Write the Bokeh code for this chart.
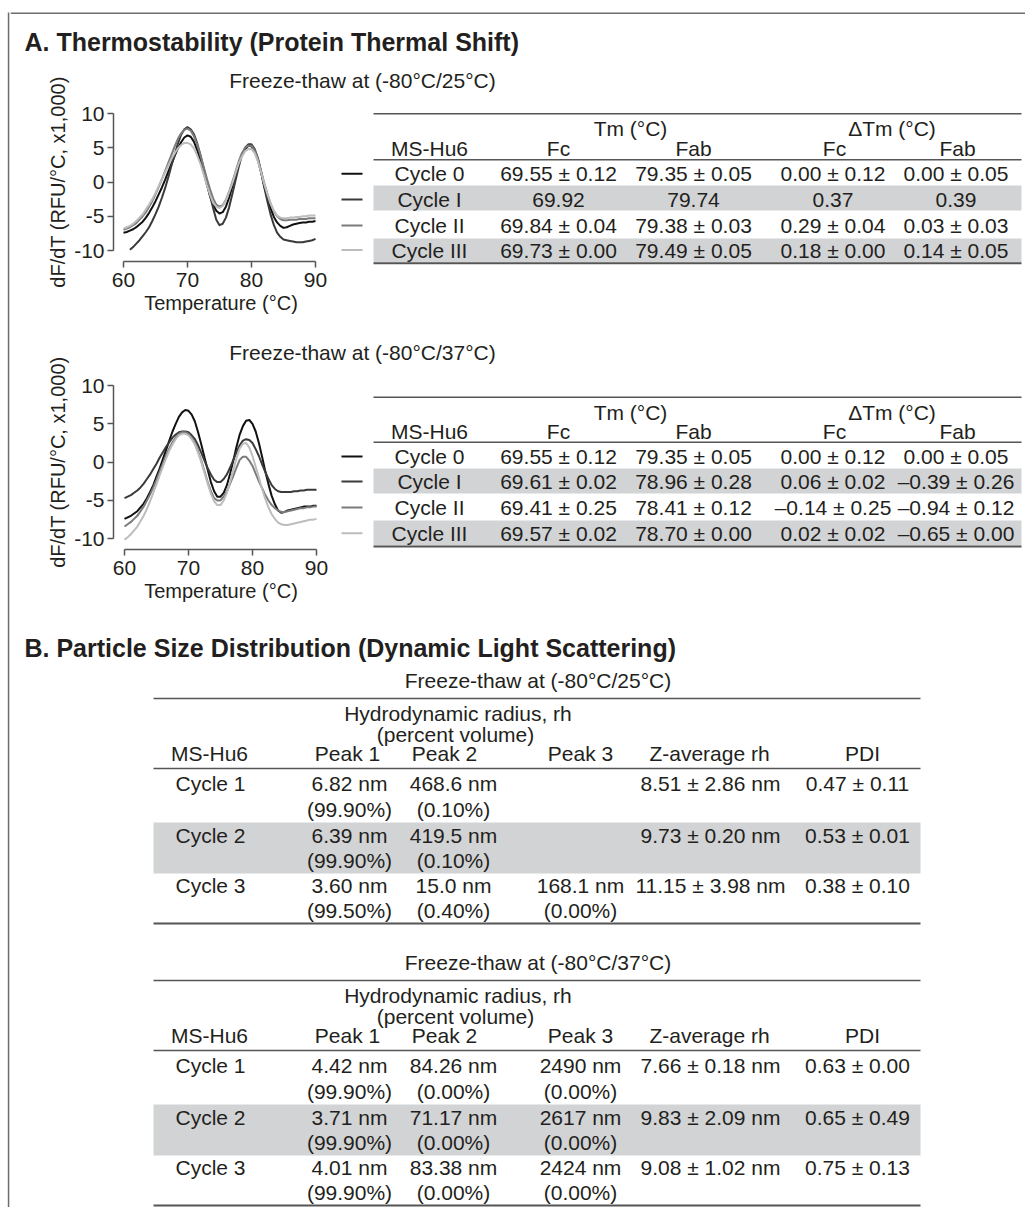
import math
from bokeh.plotting import figure
from bokeh.models import Range1d, FixedTicker
from bokeh.layouts import row, column
from bokeh.core.properties import value
from bokeh.embed import file_html
from bokeh.resources import INLINE

# ---------------- data ----------------
nan = float("nan")
temperature = [60.0, 60.5, 61.0, 61.5, 62.0, 62.5, 63.0, 63.5, 64.0, 64.5,
               65.0, 65.5, 66.0, 66.5, 67.0, 67.5, 68.0, 68.5, 69.0, 69.5,
               70.0, 70.5, 71.0, 71.5, 72.0, 72.5, 73.0, 73.5, 74.0, 74.5,
               75.0, 75.5, 76.0, 76.5, 77.0, 77.5, 78.0, 78.5, 79.0, 79.5,
               80.0, 80.5, 81.0, 81.5, 82.0, 82.5, 83.0, 83.5, 84.0, 84.5,
               85.0, 85.5, 86.0, 86.5, 87.0, 87.5, 88.0, 88.5, 89.0, 89.5,
               90.0]

# Freeze-thaw at (-80°C/25°C): dF/dT (RFU/°C, x1,000)
ft25_cycle0 = [-7.4, -7.3, -7.1, -6.9, -6.6, -6.2, -5.8, -5.2, -4.5, -3.7,
               -2.8, -1.8, -0.8, 0.3, 1.5, 2.7, 3.8, 4.9, 5.8, 6.5,
               6.8, 6.6, 5.9, 4.7, 3.2, 1.5, -0.3, -2.0, -3.3, -4.2,
               -4.6, -4.4, -3.6, -2.3, -0.7, 1.0, 2.6, 3.9, 4.8, 5.3,
               5.2, 4.5, 3.2, 1.4, -0.6, -2.4, -3.9, -5.1, -5.9, -6.4,
               -6.7, -6.6, -6.4, -6.2, -6.1, -6.0, -5.9, -5.9, -5.8, -5.8,
               -5.7]
ft25_cycle1 = [nan, nan, -9.9, -9.5, -9.0, -8.5, -7.9, -7.3, -6.6, -5.7,
               -4.7, -3.6, -2.3, -0.9, 0.7, 2.4, 4.0, 5.6, 6.9, 7.7,
               8.0, 7.7, 7.0, 5.7, 4.0, 2.1, 0.2, -1.9, -3.8, -5.5,
               -6.3, -6.1, -5.2, -3.7, -1.8, 0.2, 2.2, 3.9, 5.0, 5.5,
               5.5, 4.8, 3.5, 1.5, -0.8, -2.9, -4.8, -6.3, -7.4, -8.0,
               -8.4, -8.5, -8.6, -8.7, -8.8, -8.8, -8.8, -8.7, -8.6, -8.5,
               -8.3]
ft25_cycle2 = [-7.0, -6.8, -6.6, -6.3, -6.0, -5.5, -5.0, -4.4, -3.6, -2.8,
               -1.8, -0.7, 0.4, 1.6, 2.8, 4.0, 5.2, 6.3, 7.1, 7.6,
               7.8, 7.5, 6.7, 5.5, 4.0, 2.3, 0.6, -1.0, -2.4, -3.3,
               -3.6, -3.4, -2.6, -1.4, 0.0, 1.5, 3.0, 4.2, 5.0, 5.3,
               5.3, 4.6, 3.4, 1.6, -0.2, -1.8, -3.2, -4.3, -5.0, -5.4,
               -5.6, -5.6, -5.5, -5.5, -5.5, -5.4, -5.4, -5.4, -5.3, -5.3,
               -5.3]
ft25_cycle3 = [-6.8, -6.6, -6.4, -6.1, -5.7, -5.2, -4.7, -4.0, -3.3, -2.5,
               -1.6, -0.6, 0.4, 1.4, 2.4, 3.4, 4.2, 4.9, 5.4, 5.7,
               5.7, 5.5, 4.9, 3.9, 2.7, 1.2, -0.4, -1.8, -3.0, -3.6,
               -3.8, -3.5, -2.7, -1.5, -0.2, 1.3, 2.7, 3.7, 4.5, 4.8,
               4.8, 4.2, 3.0, 1.4, -0.3, -1.8, -3.2, -4.2, -4.9, -5.2,
               -5.3, -5.3, -5.2, -5.2, -5.1, -5.1, -5.0, -5.0, -4.9, -4.9,
               -4.9]

# Freeze-thaw at (-80°C/37°C)
ft37_cycle0 = [-7.4, -7.2, -7.0, -6.7, -6.4, -5.9, -5.4, -4.7, -3.9, -3.0,
               -1.9, -0.8, 0.4, 1.6, 2.8, 4.0, 5.0, 5.9, 6.5, 6.8,
               6.7, 6.2, 5.3, 3.9, 2.3, 0.6, -1.0, -2.6, -3.8, -4.5,
               -4.5, -4.0, -3.0, -1.5, 0.2, 2.0, 3.6, 4.7, 5.4, 5.5,
               5.0, 4.0, 2.5, 0.7, -1.2, -2.9, -4.4, -5.5, -6.3, -6.6,
               -6.5, -6.3, -6.2, -6.1, -6.0, -5.9, -5.8, -5.8, -5.8, -5.7,
               -5.7]
ft37_cycle1 = [-4.7, -4.5, -4.3, -4.0, -3.7, -3.3, -2.8, -2.2, -1.6, -0.9,
               -0.2, 0.6, 1.3, 2.0, 2.6, 3.2, 3.6, 3.9, 4.0, 4.0,
               3.9, 3.5, 3.0, 2.2, 1.2, 0.2, -0.8, -1.6, -2.3, -2.6,
               -2.6, -2.2, -1.6, -0.7, 0.3, 1.3, 2.2, 2.8, 3.0, 2.9,
               2.5, 1.7, 0.8, -0.3, -1.3, -2.2, -3.0, -3.5, -3.8, -3.9,
               -3.9, -3.9, -3.9, -3.8, -3.8, -3.7, -3.7, -3.6, -3.6, -3.6,
               -3.6]
ft37_cycle2 = [-8.4, -8.1, -7.8, -7.4, -7.0, -6.4, -5.8, -5.0, -4.2, -3.3,
               -2.3, -1.2, -0.2, 0.9, 1.8, 2.6, 3.2, 3.7, 3.9, 3.9,
               3.7, 3.2, 2.5, 1.4, 0.2, -1.2, -2.6, -3.8, -4.7, -5.0,
               -5.0, -4.5, -3.8, -2.8, -1.8, -0.7, 0.3, 0.7, 0.7, 0.2,
               -0.5, -1.5, -2.5, -3.4, -4.3, -5.0, -5.6, -6.0, -6.3, -6.5,
               -6.5, -6.4, -6.3, -6.2, -6.1, -6.0, -6.0, -5.9, -5.9, -5.8,
               -5.8]
ft37_cycle3 = [-10.1, -9.8, -9.4, -8.9, -8.4, -7.7, -7.0, -6.1, -5.1, -4.0,
               -2.9, -1.7, -0.6, 0.5, 1.5, 2.3, 3.0, 3.5, 3.7, 3.7,
               3.5, 3.0, 2.3, 1.2, 0.0, -1.4, -2.8, -4.1, -5.1, -5.6,
               -5.6, -5.0, -4.0, -2.6, -1.0, 0.5, 1.8, 2.4, 2.5, 1.9,
               0.8, -0.6, -2.0, -3.5, -4.8, -5.9, -6.8, -7.4, -7.9, -8.1,
               -8.2, -8.2, -8.1, -8.0, -7.9, -7.8, -7.7, -7.6, -7.5, -7.5,
               -7.4]

cycle_names = ["Cycle 0", "Cycle I", "Cycle II", "Cycle III"]
x_ticks = [60, 70, 80, 90]
y_ticks = [-10, -5, 0, 5, 10]

# Table A (Tm / ΔTm)
tm_group_headers = ["Tm (°C)", "ΔTm (°C)"]
tm_col_headers = ["MS-Hu6", "Fc", "Fab", "Fc", "Fab"]
a25_fc = ["69.55 ± 0.12", "69.92", "69.84 ± 0.04", "69.73 ± 0.00"]
a25_fab = ["79.35 ± 0.05", "79.74", "79.38 ± 0.03", "79.49 ± 0.05"]
a25_dfc = ["0.00 ± 0.12", "0.37", "0.29 ± 0.04", "0.18 ± 0.00"]
a25_dfab = ["0.00 ± 0.05", "0.39", "0.03 ± 0.03", "0.14 ± 0.05"]
a37_fc = ["69.55 ± 0.12", "69.61 ± 0.02", "69.41 ± 0.25", "69.57 ± 0.02"]
a37_fab = ["79.35 ± 0.05", "78.96 ± 0.28", "78.41 ± 0.12", "78.70 ± 0.00"]
a37_dfc = ["0.00 ± 0.12", "0.06 ± 0.02", "–0.14 ± 0.25", "0.02 ± 0.02"]
a37_dfab = ["0.00 ± 0.05", "–0.39 ± 0.26", "–0.94 ± 0.12", "–0.65 ± 0.00"]

# Table B (DLS)
dls_group_header = ["Hydrodynamic radius, rh", "(percent volume)"]
dls_col_headers = ["MS-Hu6", "Peak 1", "Peak 2", "Peak 3", "Z-average rh", "PDI"]
dls_cycles = ["Cycle 1", "Cycle 2", "Cycle 3"]
b25_peak1 = [("6.82 nm", "(99.90%)"), ("6.39 nm", "(99.90%)"), ("3.60 nm", "(99.50%)")]
b25_peak2 = [("468.6 nm", "(0.10%)"), ("419.5 nm", "(0.10%)"), ("15.0 nm", "(0.40%)")]
b25_peak3 = [("", ""), ("", ""), ("168.1 nm", "(0.00%)")]
b25_zavg = ["8.51 ± 2.86 nm", "9.73 ± 0.20 nm", "11.15 ± 3.98 nm"]
b25_pdi = ["0.47 ± 0.11", "0.53 ± 0.01", "0.38 ± 0.10"]
b37_peak1 = [("4.42 nm", "(99.90%)"), ("3.71 nm", "(99.90%)"), ("4.01 nm", "(99.90%)")]
b37_peak2 = [("84.26 nm", "(0.00%)"), ("71.17 nm", "(0.00%)"), ("83.38 nm", "(0.00%)")]
b37_peak3 = [("2490 nm", "(0.00%)"), ("2617 nm", "(0.00%)"), ("2424 nm", "(0.00%)")]
b37_zavg = ["7.66 ± 0.18 nm", "9.83 ± 2.09 nm", "9.08 ± 1.02 nm"]
b37_pdi = ["0.63 ± 0.00", "0.65 ± 0.49", "0.75 ± 0.13"]

title_a = "A. Thermostability (Protein Thermal Shift)"
title_b = "B. Particle Size Distribution (Dynamic Light Scattering)"
sub_25 = "Freeze-thaw at (-80°C/25°C)"
sub_37 = "Freeze-thaw at (-80°C/37°C)"
y_label = "dF/dT (RFU/°C, x1,000)"
x_label = "Temperature (°C)"

# ---------------- styles ----------------
FONT = "Liberation Sans"
TXT = "#231f20"
RULE = "#555555"
BAND = "#d2d3d5"
FRAME = "#6d6d6d"
cycle_colors = ["#111111", "#3a3a3a", "#7b7b7b", "#bdbdbd"]
FS = "21px"
W_END = 1025
H_END = 1207
STRIP = 70          # right edge of the y-label strip
PLOT_R = 330        # right edge of the curve figures


def canvas(x0, x1, y0, y1):
    p = figure(width=x1 - x0, height=y1 - y0,
               x_range=Range1d(x0, x1), y_range=Range1d(y1, y0),
               min_border=0, toolbar_location=None, tools="",
               x_axis_location=None, y_axis_location=None,
               output_backend="svg", frame_align=False)
    p.grid.visible = False
    p.outline_line_color = None
    p.background_fill_color = "white"
    p.border_fill_color = "white"
    return p


def put(p, xs, ys, texts, size=FS, align="center", bold=False, angle=0.0):
    p.text(x=xs, y=ys, text=texts, text_font=value(FONT), text_font_size=value(size),
           text_align=align, text_baseline="middle", text_color=TXT, angle=angle,
           text_font_style="bold" if bold else "normal")


def hrule(p, x0, x1, y, w=1.6):
    p.segment(x0=[x0], y0=[y], x1=[x1], y1=[y], line_color=RULE, line_width=w)


def band(p, x0, x1, y0, y1):
    p.quad(left=[x0], right=[x1], top=[y0], bottom=[y1], fill_color=BAND, line_color=None)


def curve_plot(series, fig_top, fig_bottom, px60, px90, py10, pym10, frame_top, frame_bottom):
    fl, fr = 113, 328
    sx = (px90 - px60) / 30.0
    sy = (pym10 - py10) / 20.0
    x_start = 60 - (px60 - fl) / sx
    x_end = 60 + (fr - px60) / sx
    y_start = -10 - (frame_bottom - pym10) / sy
    y_end = 10 + (py10 - frame_top) / sy
    p = figure(width=PLOT_R - STRIP, height=fig_bottom - fig_top,
               x_range=Range1d(x_start, x_end), y_range=Range1d(y_start, y_end),
               min_border_left=fl - STRIP, min_border_right=PLOT_R - fr,
               min_border_top=frame_top - fig_top, min_border_bottom=fig_bottom - frame_bottom,
               toolbar_location=None, tools="", output_backend="svg", frame_align=False)
    p.grid.visible = False
    p.outline_line_color = None
    for ys, c in zip(series, cycle_colors):
        p.line(temperature, ys, line_color=c, line_width=2.0, line_join="round")
    for ax in (p.xaxis[0], p.yaxis[0]):
        ax.axis_line_color = RULE
        ax.axis_line_width = 1.5
        ax.major_tick_line_color = RULE
        ax.major_tick_line_width = 1.5
        ax.major_tick_out = 6
        ax.major_tick_in = 0
        ax.minor_tick_line_color = None
        ax.major_label_text_font = FONT
        ax.major_label_text_font_size = FS
        ax.major_label_text_color = TXT
        ax.axis_label_text_font = FONT
        ax.axis_label_text_font_size = "20px"
        ax.axis_label_text_font_style = "normal"
        ax.axis_label_text_color = TXT
    p.xaxis.major_label_standoff = 5
    p.yaxis.major_label_standoff = 3
    p.xaxis.axis_label = x_label
    p.xaxis.axis_label_standoff = 2
    p.xaxis.ticker = FixedTicker(ticks=x_ticks)
    p.yaxis.ticker = FixedTicker(ticks=y_ticks)
    p.xaxis.bounds = (x_ticks[0], x_ticks[-1])
    p.yaxis.bounds = (y_ticks[0], y_ticks[-1])
    p.yaxis.major_label_overrides = {t: str(t) for t in y_ticks}
    p.xaxis.major_label_overrides = {t: str(t) for t in x_ticks}
    return p


def label_strip(y0, y1, y_center):
    s = canvas(10, STRIP, y0, y1)
    put(s, [57], [y_center], [y_label], size="20px", angle=math.pi / 2)
    return s


def tm_table(p, top, tm_y, head_y, head_rule, row_ys, bands, bottom, cols):
    X0, X1 = 373, 1021
    for b0, b1 in bands:
        band(p, X0, X1, b0, b1)
    hrule(p, X0, X1, top)
    hrule(p, X0, X1, head_rule)
    hrule(p, X0, X1, bottom, 2.0)
    put(p, [630, 891.5], [tm_y, tm_y], tm_group_headers)
    put(p, [429, 558, 693, 834, 957], [head_y] * 5, tm_col_headers)
    col_x = [429, 558, 693, 832.5, 955.5]
    for cx, vals in zip(col_x, [cycle_names] + cols):
        put(p, [cx] * len(vals), row_ys, vals)
    p.segment(x0=[341] * 4, x1=[362] * 4, y0=row_ys, y1=row_ys,
              line_color=cycle_colors, line_width=2.0)


def dls_table(p, dy, subtitle, cols):
    X0, X1 = 153, 920
    line_ys = [y + dy for y in [783, 809, 835, 860, 885, 910]]
    band(p, X0, X1, 822 + dy, 873 + dy)
    put(p, [537.5], [680 + dy], [subtitle])
    hrule(p, X0, X1, 698 + dy)
    put(p, [457.5, 455], [713 + dy, 734 + dy], dls_group_header)
    put(p, [209, 347, 444, 580, 709, 862], [753 + dy] * 6, dls_col_headers)
    hrule(p, X0, X1, 768 + dy)
    hrule(p, X0, X1, 923 + dy, 2.0)
    peak1, peak2, peak3, zavg, pdi = cols
    first = line_ys[0::2]
    second = line_ys[1::2]
    put(p, [210] * 3, first, dls_cycles)
    for cx, pk in zip([349, 453, 580], [peak1, peak2, peak3]):
        put(p, [cx] * 3, first, [a for a, b in pk])
        put(p, [cx] * 3, second, [b for a, b in pk])
    put(p, [710] * 3, first, zavg)
    put(p, [857] * 3, first, pdi)


def block_a(series, subtitle, y0, y1, y2, anchors, frame_tb, sub_y, table):
    px60, px90, py10, pym10 = anchors
    strip = label_strip(y0, y2, (py10 + pym10) / 2)
    sub = canvas(STRIP, W_END, y0, y1)
    put(sub, [362], [sub_y], [subtitle])
    plot = curve_plot(series, y1, y2, px60, px90, py10, pym10, frame_tb[0], frame_tb[1])
    tab = canvas(PLOT_R, W_END, y1, y2)
    tm_table(tab, *table)
    return row(strip, column(sub, row(plot, tab, spacing=0), spacing=0), spacing=0)


# ---------------- layout pieces (page pixel coordinates) ----------------
border = canvas(0, 10, 0, H_END)
border.quad(left=[7.3], right=[8.8], top=[12], bottom=[H_END], fill_color=FRAME, line_color=None)

top = canvas(10, W_END, 0, 58)
top.segment(x0=[10], y0=[12.7], x1=[W_END], y1=[12.7], line_color=FRAME, line_width=1.5)
put(top, [24], [41], [title_a], size="25px", align="left", bold=True)

blk1 = block_a([ft25_cycle0, ft25_cycle1, ft25_cycle2, ft25_cycle3], sub_25, 58, 100, 322,
               (123, 315, 113, 250), (102, 261), 80,
               (113.3, 128, 148, 159.3, [173.3, 199, 225, 249.5],
                [(185, 210), (238, 261.7)], 262.7, [a25_fc, a25_fab, a25_dfc, a25_dfab]))

blk2 = block_a([ft37_cycle0, ft37_cycle1, ft37_cycle2, ft37_cycle3], sub_37, 322, 372, 612,
               (124, 316, 385, 538.3), (374, 549), 352,
               (396.7, 411.7, 430.5, 441.7, [456, 481, 507, 532.7],
                [(468, 493), (520, 545)], 546, [a37_fc, a37_fab, a37_dfc, a37_dfab]))

bottom = canvas(10, W_END, 612, H_END)
put(bottom, [24], [647], [title_b], size="25px", align="left", bold=True)
dls_table(bottom, 0, sub_25, [b25_peak1, b25_peak2, b25_peak3, b25_zavg, b25_pdi])
dls_table(bottom, 282, sub_37, [b37_peak1, b37_peak2, b37_peak3, b37_zavg, b37_pdi])

content = column(top, blk1, blk2, bottom, spacing=0)
page = row(border, content, spacing=0)

open("out.html", "w").write(file_html(page, INLINE))
